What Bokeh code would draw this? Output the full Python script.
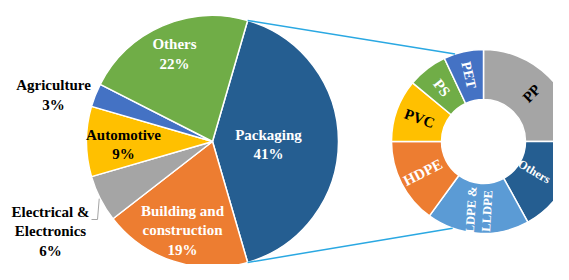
import numpy as np
from bokeh.plotting import figure
from bokeh.models import Range1d, ColumnDataSource
from bokeh.core.properties import value
from bokeh.embed import file_html
from bokeh.resources import INLINE

# ---- data ----
main_names = ["Packaging", "Building and\nconstruction", "Electrical &\nElectronics",
              "Automotive", "Agriculture", "Others"]
main_values = [41, 19, 6, 9, 3, 22]
main_colors = ["#255E91", "#ED7D31", "#A5A5A5", "#FFC000", "#4472C4", "#70AD47"]
main_text_colors = ["white", "white", "black", "black", "black", "white"]

donut_names = ["PP", "Others", "LDPE &\nLLDPE", "HDPE", "PVC", "PS", "PET"]
donut_values = [25, 17, 18, 15, 11, 7, 7]
donut_colors = ["#A5A5A5", "#255E91", "#5B9BD5", "#ED7D31", "#FFC000", "#70AD47", "#4472C4"]
donut_text_colors = ["black", "white", "white", "white", "black", "white", "white"]

# ---- layout (reference pixel space, y flipped) ----
H = 280
W_FIG, H_FIG = 553, 264
FONT = value("Liberation Serif")

main_cx, main_cy, main_r = 212, H - 141, 126
don_cx, don_cy, don_ri, don_ro = 483, H - 141, 42, 92
# label anchors for main pie (ref pixels, block centres)
main_lab_x = [268, 182, 50, 123, 53, 174]
main_lab_y = [144, 230, 231, 144, 94.5, 53.5]
# donut label radius / size per slice
don_lab_r = [68, 59, 69, 68, 68, 68, 68]
don_lab_size = ["15px", "12px", "12.5px", "15px", "15px", "15px", "14px"]

p = figure(width=W_FIG, height=H_FIG, output_backend="svg", toolbar_location=None,
           x_range=Range1d(0, W_FIG), y_range=Range1d(H - H_FIG, H),
           min_border=0)
p.axis.visible = False
p.grid.visible = False
p.outline_line_color = None
p.background_fill_color = "white"

# main pie, clockwise, Packaging centred on the right
mv = np.array(main_values, dtype=float)
deg = mv / mv.sum() * 360
start_c = 90 - deg[0] / 2  # clockwise-from-top angle of first slice start
cum = start_c + np.concatenate([[0], np.cumsum(deg)])
s_c, e_c = cum[:-1], cum[1:]
src = ColumnDataSource(dict(
    start=np.radians(90 - s_c), end=np.radians(90 - e_c), color=main_colors))
p.wedge(x=main_cx, y=main_cy, radius=main_r, start_angle="start", end_angle="end",
        direction="clock", fill_color="color", line_color="white", line_width=1.5, source=src)

# donut
dv = np.array(donut_values, dtype=float)
ddeg = dv / dv.sum() * 360
dcum = np.concatenate([[0], np.cumsum(ddeg)])
ds_c, de_c = dcum[:-1], dcum[1:]
dsrc = ColumnDataSource(dict(
    start=np.radians(90 - ds_c), end=np.radians(90 - de_c), color=donut_colors))
p.annular_wedge(x=don_cx, y=don_cy, inner_radius=don_ri, outer_radius=don_ro,
                start_angle="start", end_angle="end", direction="clock",
                fill_color="color", line_color="white", line_width=1.5, source=dsrc)

# connector lines
top_c, bot_c = s_c[0], e_c[0]
a1, a2 = np.radians(342), np.radians(199.6)
p.line([main_cx + main_r * np.sin(np.radians(top_c)), don_cx + don_ro * np.sin(a1)],
       [main_cy + main_r * np.cos(np.radians(top_c)), don_cy + don_ro * np.cos(a1)],
       line_color="#2AA8E2", line_width=1.5)
p.line([main_cx + main_r * np.sin(np.radians(bot_c)), don_cx + don_ro * np.sin(a2)],
       [main_cy + main_r * np.cos(np.radians(bot_c)), don_cy + don_ro * np.cos(a2)],
       line_color="#2AA8E2", line_width=1.5)

# leader line for Electrical & Electronics
mid_el = np.radians((s_c[2] + e_c[2]) / 2)
ex, ey = main_cx + main_r * np.sin(mid_el), main_cy + main_r * np.cos(mid_el)
tick_y = H - (main_lab_y[2] - 18 + 6)
p.line([91, 97, ex - 1], [tick_y, tick_y, ey], line_color="#A5A5A5", line_width=1)

# main labels
texts = [f"{n}\n{v}%" for n, v in zip(main_names, main_values)]
p.text(x=main_lab_x, y=[H - y for y in main_lab_y], text=texts,
       text_color=main_text_colors, text_font=FONT, text_font_style="bold",
       text_font_size="15px", text_align="center", text_baseline="middle",
       text_line_height=1.2)

# donut labels (radial)
mid_c = (ds_c + de_c) / 2
lr = np.array(don_lab_r, dtype=float)
lx = don_cx + lr * np.sin(np.radians(mid_c))
ly = don_cy + lr * np.cos(np.radians(mid_c))
ang = np.where(mid_c < 180, 90 - mid_c, 270 - mid_c)
p.text(x=lx, y=ly, text=donut_names, angle=np.radians(ang),
       text_color=donut_text_colors, text_font=FONT, text_font_style="bold",
       text_font_size=don_lab_size, text_align="center", text_baseline="middle",
       text_line_height=1.15)

open("out.html", "w").write(file_html(p, INLINE))
